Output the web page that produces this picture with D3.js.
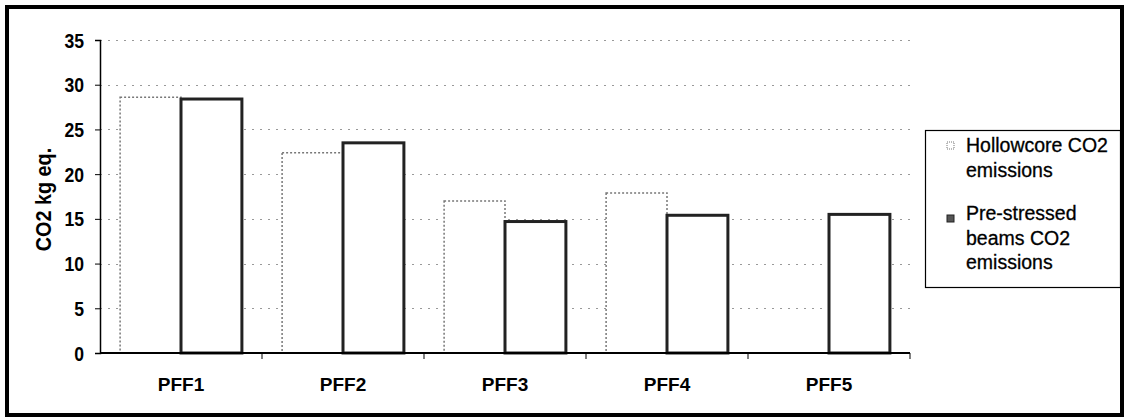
<!DOCTYPE html>
<html>
<head>
<meta charset="utf-8">
<script src="https://cdn.jsdelivr.net/npm/d3@7"></script>
<style>
  html, body { margin: 0; padding: 0; background: #fff; }
  svg { display: block; font-family: "Liberation Sans", Arial, sans-serif; }
</style>
</head>
<body>
<svg id="chart" width="1124" height="419"></svg>
<script>
// CO2 emissions per floor option (kg CO2 eq.)
const categories = ["PFF1", "PFF2", "PFF3", "PFF4", "PFF5"];
const hollowcore = [28.6, 22.4, 17.0, 17.9, 0];
const prestressed = [28.4, 23.5, 14.7, 15.4, 15.5];
const legendLines = [["Hollowcore CO2", "emissions"], ["Pre-stressed", "beams CO2", "emissions"]];
const yTicks = [0, 5, 10, 15, 20, 25, 30, 35];

const svg = d3.select("#chart");
const W = 1124, H = 419;
const plot = { left: 100, right: 910, top: 40, bottom: 353 };

// outer frame
svg.append("rect")
  .attr("x", 7).attr("y", 7)
  .attr("width", W - 9).attr("height", H - 11)
  .attr("fill", "none").attr("stroke", "#000").attr("stroke-width", 4);

const x = d3.scaleBand().domain(categories).range([plot.left, plot.right]).paddingInner(0).paddingOuter(0);
const inner = d3.scaleBand().domain([0, 1]).range([0, x.bandwidth()]).paddingOuter(0.33).paddingInner(0);
const y = d3.scaleLinear().domain([0, 35]).range([plot.bottom, plot.top]);

// horizontal gridlines
svg.append("g").selectAll("line").data(yTicks.filter(d => d > 0)).join("line")
  .attr("x1", plot.left).attr("x2", plot.right)
  .attr("y1", d => Math.round(y(d)) + 0.5).attr("y2", d => Math.round(y(d)) + 0.5)
  .attr("stroke", "#999").attr("stroke-width", 1)
  .attr("stroke-dasharray", "2,6");

// bars
const groups = svg.append("g").selectAll("g").data(categories).join("g")
  .attr("transform", d => `translate(${x(d)},0)`);

groups.append("rect")
  .attr("x", inner(0))
  .attr("width", inner.bandwidth())
  .attr("y", (d, i) => y(hollowcore[i]))
  .attr("height", (d, i) => y(0) - y(hollowcore[i]))
  .attr("fill", "#fff")
  .attr("stroke", (d, i) => hollowcore[i] > 0 ? "#777" : "none")
  .attr("stroke-width", 1.5)
  .attr("stroke-dasharray", "2,2");

groups.append("rect")
  .attr("x", inner(1))
  .attr("width", inner.bandwidth())
  .attr("y", (d, i) => y(prestressed[i]))
  .attr("height", (d, i) => y(0) - y(prestressed[i]))
  .attr("fill", "#fff")
  .attr("stroke", "#222")
  .attr("stroke-width", 3);

// y axis
const yAxis = d3.axisLeft(y).tickValues(yTicks).tickSize(5).tickPadding(0).tickFormat(d3.format("d"));
const gy = svg.append("g").attr("transform", `translate(${plot.left},0)`).call(yAxis);
gy.select(".domain").attr("stroke", "#000").attr("stroke-width", 1.5);
gy.selectAll(".tick line").attr("stroke", "#000");
gy.selectAll(".tick text")
  .attr("x", null).attr("dy", null)
  .attr("transform", "translate(-16,7) scale(0.88,1.05)")
  .attr("font-size", 20).attr("font-weight", "bold").attr("fill", "#000");

// x axis with ticks at category boundaries
const gx = svg.append("g").attr("transform", `translate(0,${plot.bottom})`);
gx.append("line").attr("x1", plot.left).attr("x2", plot.right)
  .attr("stroke", "#000").attr("stroke-width", 2);
gx.selectAll("line.tk").data(categories).join("line").attr("class", "tk")
  .attr("x1", d => x(d) + x.bandwidth()).attr("x2", d => x(d) + x.bandwidth())
  .attr("y1", 0).attr("y2", 6).attr("stroke", "#000");
gx.selectAll("text").data(categories).join("text")
  .attr("x", d => x(d) + x.bandwidth() / 2)
  .attr("y", 38)
  .attr("text-anchor", "middle")
  .attr("font-size", 19).attr("font-weight", "bold")
  .text(d => d);

// y axis title
svg.append("text")
  .attr("transform", `translate(51,${(plot.top + plot.bottom) / 2 + 3}) rotate(-90) scale(0.9,1)`)
  .attr("text-anchor", "middle")
  .attr("font-size", 22).attr("font-weight", "bold")
  .text("CO2 kg eq.");

// legend
const lg = svg.append("g").attr("transform", "translate(925,130)");
lg.append("rect").attr("x", 0.5).attr("y", 0.5).attr("width", 195).attr("height", 157)
  .attr("fill", "#fff").attr("stroke", "#000").attr("stroke-width", 1.2);
const legendTop = [12, 85];
const legendText = [22, 90];
legendLines.forEach((lines, i) => {
  lg.append("rect").attr("x", 22).attr("y", legendTop[i]).attr("width", 7).attr("height", 7)
    .attr("fill", i === 0 ? "#fff" : "#555")
    .attr("stroke", i === 0 ? "#777" : "#222")
    .attr("stroke-dasharray", i === 0 ? "1,1" : null);
  lines.forEach((t, j) => {
    lg.append("text").attr("x", 41).attr("y", legendText[i] + j * 24.5)
      .attr("font-size", 19.5).attr("fill", "#000")
      .attr("stroke", "#000").attr("stroke-width", 0.3)
      .text(t);
  });
});
</script>
</body>
</html>
